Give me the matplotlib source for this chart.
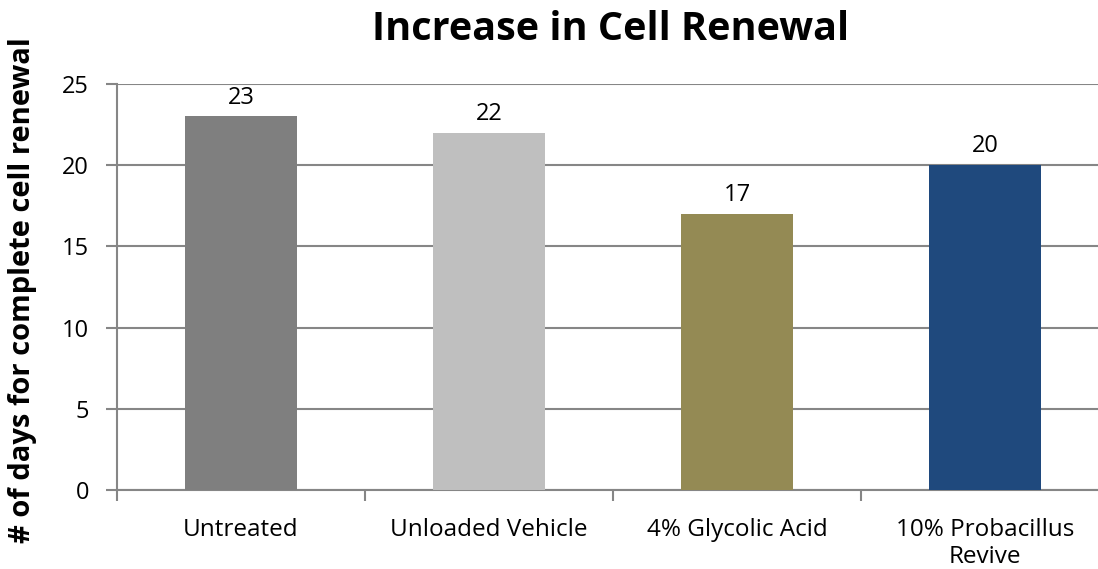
import matplotlib
matplotlib.use("Agg")
import matplotlib.pyplot as plt

categories = ["Untreated", "Unloaded Vehicle", "4% Glycolic Acid", "10% Probacillus\nRevive"]
values = [23, 22, 17, 20]
colors = ["#7F7F7F", "#BFBFBF", "#948A54", "#1F497D"]
yticks = [0, 5, 10, 15, 20, 25]

plt.rcParams['font.family'] = ['Open Sans', 'DejaVu Sans']

W, H = 1098, 569
fig = plt.figure(figsize=(W/100, H/100), dpi=100)
ax = fig.add_axes([117/W, 79/H, 992/W, 406/H])

x = list(range(len(categories)))
ax.bar(x, values, width=0.45, color=colors, zorder=3)
for xi, v in zip(x, values):
    ax.annotate(str(v), (xi, v), xytext=(0, 5), textcoords="offset points",
                ha="center", va="bottom", fontsize=17, color="black")

ax.set_xlim(-0.5, len(categories) - 0.5)
ax.set_ylim(0, 25)
ax.set_yticks(yticks)
ax.set_yticklabels([str(t) for t in yticks], fontsize=17)
ax.yaxis.grid(True, color="#868686", linewidth=1.5, zorder=0)
ax.set_axisbelow(True)

ax.set_xticks([i - 0.5 for i in range(len(categories) + 1)], minor=False)
ax.set_xticklabels([])
ax.set_xticks(x, minor=True)
ax.set_xticklabels(categories, minor=True, fontsize=17.5, linespacing=1.2)
ax.tick_params(axis="x", which="minor", length=0, pad=20)
ax.tick_params(axis="x", which="major", length=8, color="#868686", width=1.5, direction="out")
ax.tick_params(axis="y", length=8, color="#868686", width=1.5, pad=12)

for s in ["top", "right"]:
    ax.spines[s].set_visible(False)
for s in ["left", "bottom"]:
    ax.spines[s].set_color("#868686")
    ax.spines[s].set_linewidth(1.5)

ax.set_ylabel("# of days for complete cell renewal", fontsize=21, fontweight="bold")
ax.yaxis.set_label_coords(-80/992, 0.5 - 3/406)
fig.text(611/W, 1 - 30/H, "Increase in Cell Renewal", ha="center", va="center",
         fontsize=28.5, fontweight="bold")

fig.savefig("out.png", dpi=100)
